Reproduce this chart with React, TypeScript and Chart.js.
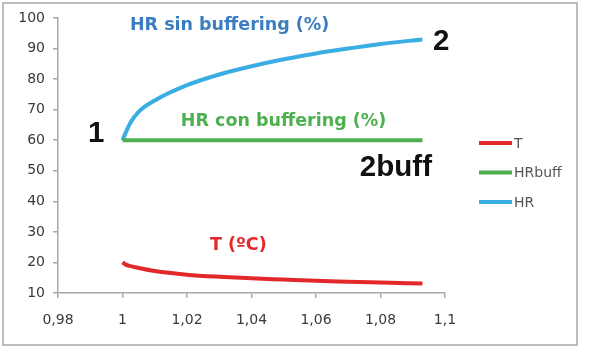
import React, { useEffect, useRef } from "react";
import { Chart, registerables } from "chart.js";

Chart.register(...registerables);

const xValues = [1, 1.001, 1.0025, 1.005, 1.01, 1.02, 1.03, 1.04, 1.05, 1.06, 1.07, 1.08, 1.093];
const tValues = [20, 19.3, 18.8, 18.2, 17.2, 16.0, 15.3, 14.8, 14.4, 14.0, 13.7, 13.4, 13.1];
const hrBuffValues = [60, 60, 60, 60, 60, 60, 60, 60, 60, 60, 60, 60, 60];
const hrValues = [60, 62.5, 65.8, 69.3, 73, 78, 81.5, 84.2, 86.5, 88.4, 90, 91.5, 93];
const seriesNames = ["T", "HRbuff", "HR"];
const seriesColors = ["#e2282a", "#4db04f", "#3aaee2"];
const annotations = [
  { text: "HR sin buffering (%)", x: 1.0023, y: 97.5, color: "#3b7dc0", size: 17.5, font: "'DejaVu Sans', sans-serif" },
  { text: "HR con buffering (%)", x: 1.0181, y: 66.3, color: "#4db04f", size: 17.5, font: "'DejaVu Sans', sans-serif" },
  { text: "T (ºC)", x: 1.0271, y: 25.5, color: "#e2282a", size: 17.5, font: "'DejaVu Sans', sans-serif" },
  { text: "1", x: 0.9893, y: 62, color: "#111", size: 29.5, font: "'Liberation Sans', sans-serif" },
  { text: "2", x: 1.0963, y: 92.3, color: "#111", size: 29.5, font: "'Liberation Sans', sans-serif" },
  { text: "2buff", x: 1.0736, y: 51, color: "#111", size: 29.5, font: "'Liberation Sans', sans-serif" },
];
const xTicks = [0.98, 1, 1.02, 1.04, 1.06, 1.08, 1.1];

const TICK_FONT = "'DejaVu Sans', sans-serif";

export default function App() {
  const ref = useRef<HTMLCanvasElement>(null);
  useEffect(() => {
    let chart: Chart | null = null;
    let cancelled = false;
    const build = () => {
      if (cancelled || !ref.current) return;
      const datasets = [tValues, hrBuffValues, hrValues].map((vals, i) => ({
        label: seriesNames[i],
        data: xValues.map((x, j) => ({ x, y: vals[j] })),
        borderColor: seriesColors[i],
        backgroundColor: seriesColors[i],
        borderWidth: 4,
        pointRadius: 0,
        showLine: true,
        tension: 0.3,
        cubicInterpolationMode: "monotone" as const,
      }));
      const overlay = {
        id: "overlay",
        beforeDraw(c: any) {
          const ctx = c.ctx;
          ctx.save();
          ctx.fillStyle = "#fff";
          ctx.fillRect(0, 0, c.width, c.height);
          ctx.strokeStyle = "#bdbdbd";
          ctx.lineWidth = 2;
          ctx.strokeRect(3, 3, 574, 342);
          ctx.restore();
        },
        afterDatasetsDraw(c: any) {
          const ctx = c.ctx;
          const xs = c.scales.x;
          const ys = c.scales.y;
          ctx.save();
          ctx.textBaseline = "middle";
          annotations.forEach((a) => {
            ctx.font = `bold ${a.size}px ${a.font}`;
            ctx.fillStyle = a.color;
            ctx.textAlign = "left";
            ctx.fillText(a.text, xs.getPixelForValue(a.x), ys.getPixelForValue(a.y));
          });
          ctx.font = `14px ${TICK_FONT}`;
          seriesNames.forEach((n, i) => {
            const y = 143 + i * 29.5;
            ctx.strokeStyle = seriesColors[i];
            ctx.lineWidth = 4;
            ctx.beginPath();
            ctx.moveTo(479, y);
            ctx.lineTo(512, y);
            ctx.stroke();
            ctx.fillStyle = "#555";
            ctx.textAlign = "left";
            ctx.fillText(n, 514, y + 1);
          });
          ctx.restore();
        },
      };
      chart = new Chart(ref.current, {
        type: "scatter",
        data: { datasets },
        options: {
          responsive: false,
          animation: false,
          layout: { padding: { left: 0, right: 154, top: 18, bottom: 26 } },
          plugins: { legend: { display: false }, tooltip: { enabled: false } },
          scales: {
            x: {
              type: "linear",
              min: 0.98,
              max: 1.1,
              afterFit: (s: any) => { s.height = 40; },
              afterBuildTicks: (s: any) => { s.ticks = xTicks.map((v) => ({ value: v })); },
              ticks: {
                color: "#3a3a3a",
                font: { size: 14, family: TICK_FONT },
                padding: 14,
                callback: (v: any) => String(Math.round(Number(v) * 100) / 100).replace(".", ","),
              },
              grid: { drawOnChartArea: false, color: "#a8a8a8", tickLength: 5, lineWidth: 1.5 },
              border: { color: "#a8a8a8", width: 1.5 },
            },
            y: {
              min: 10,
              max: 100,
              afterFit: (s: any) => { s.width = 58; },
              ticks: { stepSize: 10, color: "#3a3a3a", font: { size: 14, family: TICK_FONT }, padding: 8 },
              grid: { drawOnChartArea: false, color: "#a8a8a8", tickLength: 5, lineWidth: 1.5 },
              border: { color: "#a8a8a8", width: 1.5 },
            },
          },
        },
        plugins: [overlay],
      });
    };
    const fonts: any = (document as any).fonts;
    if (fonts && fonts.load) {
      Promise.all([
        fonts.load("bold 29.5px 'Liberation Sans'"),
        fonts.load("bold 17.5px 'DejaVu Sans'"),
        fonts.load("14px 'DejaVu Sans'"),
      ]).then(build, build);
    } else {
      build();
    }
    return () => {
      cancelled = true;
      if (chart) chart.destroy();
    };
  }, []);
  return (
    <div style={{ position: "absolute", left: 0, top: 0, width: 599, height: 359, background: "#fff" }}>
      <canvas ref={ref} width={599} height={359} />
    </div>
  );
}
